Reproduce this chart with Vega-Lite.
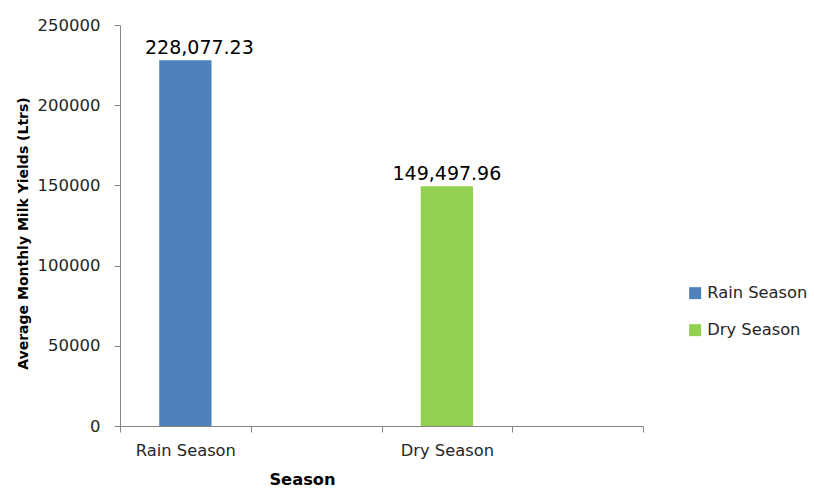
{
  "$schema": "https://vega.github.io/schema/vega-lite/v6.json",
  "width": 523,
  "height": 401,
  "autosize": "none",
  "padding": {"left": 120, "top": 25, "right": 171, "bottom": 67},
  "background": "white",
  "config": {
    "view": {"stroke": null},
    "font": "DejaVu Sans",
    "axis": {"labelColor": "#262626", "labelFont": "DejaVu Sans"}
  },
  "data": {
    "values": [
      {"Season": "Rain Season", "Yield": 228077.23},
      {"Season": "Dry Season", "Yield": 149497.96}
    ]
  },
  "encoding": {
    "x": {
      "field": "Season",
      "type": "nominal",
      "sort": null,
      "scale": {"domain": ["Rain Season", " ", "Dry Season", "  "], "paddingInner": 0, "paddingOuter": 0},
      "axis": {
        "title": "Season",
        "labelAngle": 0,
        "labelFontSize": 16.3,
        "labelPadding": 10,
        "tickBand": "extent",
        "tickSize": 6,
        "tickColor": "#868686",
        "domainColor": "#868686",
        "titleFontSize": 16.3,
        "titleFontWeight": "bold",
        "titleColor": "#000000",
        "titlePadding": 13,
        "titleX": 182
      }
    },
    "y": {
      "field": "Yield",
      "type": "quantitative",
      "scale": {"domain": [0, 250000], "nice": false},
      "axis": {
        "title": "Average Monthly Milk Yields (Ltrs)",
        "values": [0, 50000, 100000, 150000, 200000, 250000],
        "format": "d",
        "grid": false,
        "labelFontSize": 16.5,
        "labelPadding": 14,
        "tickSize": 6,
        "tickColor": "#868686",
        "domainColor": "#868686",
        "titleFontSize": 14,
        "titleFontWeight": "bold",
        "titleColor": "#000000",
        "titlePadding": 7,
        "titleY": 208
      }
    }
  },
  "layer": [
    {
      "mark": {"type": "bar", "width": {"band": 0.4}},
      "encoding": {
        "color": {
          "field": "Season",
          "type": "nominal",
          "scale": {"domain": ["Rain Season", "Dry Season"], "range": ["#4F81BD", "#92D050"]},
          "legend": {
            "title": null,
            "orient": "none",
            "legendX": 567,
            "legendY": 260,
            "symbolType": "square",
            "symbolSize": 144,
            "symbolStrokeWidth": 0,
            "labelFontSize": 16.3,
            "labelColor": "#262626",
            "rowPadding": 20,
            "labelOffset": 4
          }
        }
      }
    },
    {
      "transform": [{"filter": "datum.Season === 'Rain Season'"}],
      "mark": {"type": "text", "fontSize": 19, "color": "#000000", "baseline": "alphabetic", "dy": -6.5, "dx": 14},
      "encoding": {
        "text": {"field": "Yield", "type": "quantitative", "format": ",.2f"}
      }
    },
    {
      "transform": [{"filter": "datum.Season === 'Dry Season'"}],
      "mark": {"type": "text", "fontSize": 19, "color": "#000000", "baseline": "alphabetic", "dy": -6.5},
      "encoding": {
        "text": {"field": "Yield", "type": "quantitative", "format": ",.2f"}
      }
    }
  ]
}
